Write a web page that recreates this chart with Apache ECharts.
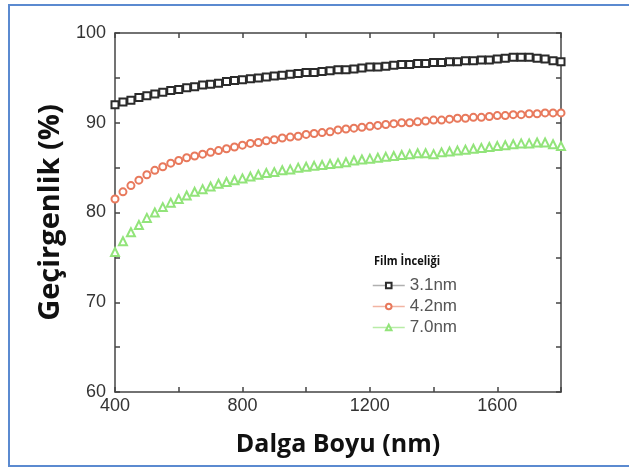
<!DOCTYPE html>
<html>
<head>
<meta charset="utf-8">
<script src="https://cdn.jsdelivr.net/npm/echarts@6/dist/echarts.min.js"></script>
<style>
html,body{margin:0;padding:0;background:#fff;}
#chart{width:629px;height:469px;}
</style>
</head>
<body>
<div id="chart"></div>
<script>
// dalga boyu (nm)
var wavelength = [400,425,450,475,500,525,550,575,600,625,650,675,700,725,750,775,800,825,850,875,900,925,950,975,1000,1025,1050,1075,1100,1125,1150,1175,1200,1225,1250,1275,1300,1325,1350,1375,1400,1425,1450,1475,1500,1525,1550,1575,1600,1625,1650,1675,1700,1725,1750,1775,1800];
// gecirgenlik (%)
var film31 = [92.0,92.3,92.5,92.8,93.0,93.2,93.4,93.6,93.7,93.9,94.0,94.2,94.3,94.4,94.6,94.7,94.8,94.9,95.0,95.1,95.2,95.3,95.4,95.5,95.6,95.6,95.7,95.8,95.9,95.9,96.0,96.1,96.2,96.2,96.3,96.4,96.5,96.5,96.6,96.6,96.7,96.7,96.8,96.8,96.9,96.9,97.0,97.0,97.1,97.2,97.3,97.3,97.3,97.2,97.1,96.9,96.8];
var film42 = [81.5,82.3,83.0,83.6,84.2,84.7,85.1,85.5,85.8,86.1,86.3,86.5,86.7,86.9,87.1,87.3,87.5,87.7,87.8,88.0,88.1,88.3,88.4,88.5,88.7,88.8,88.9,89.0,89.2,89.3,89.4,89.5,89.6,89.7,89.8,89.9,90.0,90.0,90.1,90.2,90.3,90.3,90.4,90.5,90.5,90.6,90.6,90.7,90.8,90.8,90.9,90.9,91.0,91.0,91.1,91.1,91.1];
var film70 = [75.6,76.8,77.8,78.6,79.4,80.0,80.6,81.1,81.5,81.9,82.3,82.6,82.9,83.2,83.4,83.6,83.8,84.0,84.2,84.4,84.5,84.7,84.8,85.0,85.1,85.2,85.3,85.4,85.5,85.6,85.8,85.9,86.0,86.1,86.2,86.3,86.4,86.5,86.6,86.6,86.5,86.7,86.8,86.9,87.0,87.1,87.2,87.3,87.4,87.5,87.6,87.7,87.7,87.8,87.8,87.6,87.4];
var seriesNames = ['3.1nm','4.2nm','7.0nm'];
var xLabels = [400,800,1200,1600];
var yLabels = [60,70,80,90,100];

function pairs(ys){
	return wavelength.map(function(x,i){ return [x,ys[i]]; });
}

var chart = echarts.init(document.getElementById('chart'));
var axisCol = '#444';
var tickFont = 'Liberation Sans, Arial, sans-serif';

function xAx(pos,labels){
	return {
		type:'value', position:pos, min:400, max:1800, interval:200,
		axisLine:{show:true,lineStyle:{color:axisCol,width:1.5}},
		axisTick:{show:true,inside:true,length:5,lineStyle:{color:axisCol,width:1.5}},
		splitLine:{show:false},
		axisLabel:{show:labels,fontSize:18,color:'#333',fontFamily:tickFont,margin:5,
			formatter:function(v){ return xLabels.indexOf(v)>=0 ? String(v) : ''; }}
	};
}
function yAx(pos,labels){
	return {
		type:'value', position:pos, min:60, max:100, interval:5,
		axisLine:{show:true,lineStyle:{color:axisCol,width:1.5}},
		axisTick:{show:true,inside:true,length:5,lineStyle:{color:axisCol,width:1.5}},
		splitLine:{show:false},
		axisLabel:{show:labels,fontSize:18,color:'#333',fontFamily:tickFont,margin:9,
			formatter:function(v){ return yLabels.indexOf(v)>=0 ? String(v) : ''; }}
	};
}

var xMain = xAx('bottom',true);
xMain.name = 'Dalga Boyu (nm)';
xMain.nameLocation = 'middle';
xMain.nameGap = 40;
xMain.nameTextStyle = {fontSize:25,fontWeight:'bold',color:'#111',fontFamily:'Open Sans'};
var yMain = yAx('left',true);
yMain.name = 'Geçirgenlik (%)';
yMain.nameLocation = 'middle';
yMain.nameGap = 50;
yMain.nameTextStyle = {fontSize:29,fontWeight:'bold',color:'#111',fontFamily:'Open Sans'};

//lineStyle rengi sadece lejant cizgisi icin, grafikte cizgi yok
function mk(name,data,symbol,size,color,lineCol,zz){
	return {
		name:name, type:'line', data:pairs(data),
		symbol:symbol, symbolSize:size, showAllSymbol:true,
		lineStyle:{width:0,opacity:0,color:lineCol},
		itemStyle:{color:color,borderColor:color,borderWidth:1.3},
		z:zz, animation:false
	};
}

var option = {
	backgroundColor:'#fff',
	grid:{left:115,right:68,top:33,bottom:77,containLabel:false},
	xAxis:[xMain, xAx('top',false)],
	yAxis:[yMain, yAx('right',false)],
	legend:{
		orient:'vertical', left:367, top:272,
		itemWidth:32, itemHeight:7, itemGap:4,
		lineStyle:{width:1.5,opacity:1},
		textStyle:{fontSize:17,color:'#555',fontFamily:tickFont},
		data:seriesNames
	},
	graphic:[
		{type:'rect',shape:{x:9,y:5,width:640,height:461},style:{fill:'none',stroke:'#5b8ad0',lineWidth:2},silent:true},
		{type:'text',left:374,top:255,scaleX:0.85,style:{text:'Film İnceliği',font:'bold 13px "Open Sans"',fill:'#111'}}
	],
	series:[
		mk(seriesNames[0],film31,'emptyRect',7,'#2b2b2b','#b0b0b0',5),
		mk(seriesNames[1],film42,'emptyCircle',7,'#e8795c','#f2b4a2',4),
		mk(seriesNames[2],film70,'emptyTriangle',8,'#92e47a','#b8eca6',3)
	]
};
chart.setOption(option);
</script>
</body>
</html>
